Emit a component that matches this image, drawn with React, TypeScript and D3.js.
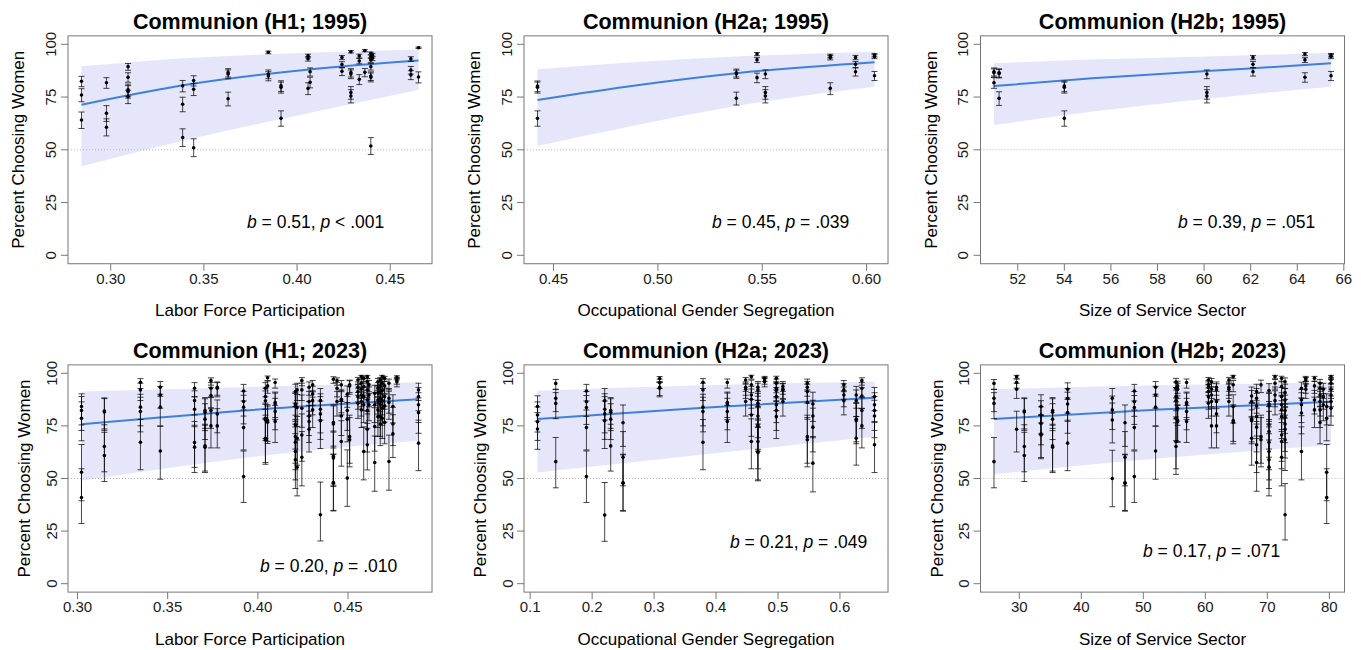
import React from "react";
import * as d3 from "d3";

// Each group: [x value, CI half-width on logit scale, percent choosing women values]
type Group = [number, number, number[]];

// ---------------- DATA ----------------
const titles = [
  "Communion (H1; 1995)",
  "Communion (H2a; 1995)",
  "Communion (H2b; 1995)",
  "Communion (H1; 2023)",
  "Communion (H2a; 2023)",
  "Communion (H2b; 2023)",
];
const xLabels = [
  "Labor Force Participation",
  "Occupational Gender Segregation",
  "Size of Service Sector",
  "Labor Force Participation",
  "Occupational Gender Segregation",
  "Size of Service Sector",
];
const statB = ["0.51", "0.45", "0.39", "0.20", "0.21", "0.17"];
const statP = ["< .001", "= .039", "= .051", "= .010", "= .049", "= .071"];

const yTicks = [0, 25, 50, 75, 100];
const xTicks1 = [0.3, 0.35, 0.4, 0.45];
const xTicks2 = [0.45, 0.5, 0.55, 0.6];
const xTicks3 = [52, 54, 56, 58, 60, 62, 64, 66];
const xTicks4 = [0.3, 0.35, 0.4, 0.45];
const xTicks5 = [0.1, 0.2, 0.3, 0.4, 0.5, 0.6];
const xTicks6 = [30, 40, 50, 60, 70, 80];
const tickFormats = [".2f", ".2f", "d", ".2f", ".1f", "d"];

const groups1: Group[] = [
  [0.2843, 0.17, [82.5, 76.0, 64.1]],
  [0.2977, 0.17, [81.8, 67.3, 60.7]],
  [0.3093, 0.17, [89.4, 84.4, 78.4, 77.6, 75.2]],
  [0.3386, 0.17, [80.3, 71.6, 55.8]],
  [0.3445, 0.17, [82.8, 78.7, 51.0]],
  [0.363, 0.17, [86.6, 85.9, 74.2]],
  [0.3846, 0.17, [96.2, 85.9, 85.0]],
  [0.3914, 0.16, [80.3, 79.6, 64.9]],
  [0.4059, 0.17, [94.5, 93.2, 79.1]],
  [0.407, 0.17, [87.0, 82.0]],
  [0.4241, 0.17, [93.8, 90.4, 87.2]],
  [0.4289, 0.17, [96.5, 86.6, 85.9, 77.1, 75.5]],
  [0.4334, 0.17, [94.5, 92.1, 83.4]],
  [0.4364, 0.17, [97.0, 86.7]],
  [0.4396, 0.16, [95.7, 94.2, 92.6, 89.4, 85.0, 84.4, 51.8]],
  [0.4405, 0.17, [94.9, 93.4]],
  [0.4611, 0.17, [93.1, 87.8, 85.5]],
  [0.4652, 0.2, [98.4, 84.5]],
];
const groups2: Group[] = [
  [0.4423, 0.16, [80.2, 79.6, 64.9]],
  [0.5376, 0.16, [86.5, 85.9, 74.4]],
  [0.5475, 0.17, [95.4, 92.6, 84.2]],
  [0.5515, 0.17, [85.9, 77.1, 75.5]],
  [0.5826, 0.17, [94.5, 93.7, 79.1]],
  [0.5947, 0.17, [93.8, 90.5, 87.0]],
  [0.6038, 0.17, [94.9, 94.2, 85.1]],
];
const groups3: Group[] = [
  [50.98, 0.17, [87.0, 86.5, 81.8]],
  [51.2, 0.17, [86.5, 86.2, 74.4]],
  [54.0, 0.16, [80.2, 79.6, 64.9]],
  [60.12, 0.17, [85.9, 77.1, 75.5]],
  [62.1, 0.17, [93.8, 90.5, 87.0]],
  [64.33, 0.17, [95.4, 92.6, 84.4]],
  [65.45, 0.17, [94.9, 94.2, 85.1]],
];
const groups4: Group[] = [
  [0.3022, 0.55, [84.2, 82.3, 78.6, 53.0, 41.0]],
  [0.3149, 0.5, [82.1, 81.6, 65.2, 60.9]],
  [0.3349, 0.55, [95.7, 92.1, 83.9, 81.8, 67.2]],
  [0.3459, 0.55, [93.4, 89.7, 83.9, 63.1]],
  [0.3649, 0.5, [92.9, 87.0, 82.9, 67.1, 64.9]],
  [0.3707, 0.5, [82.3, 81.5, 78.2, 65.5, 64.9]],
  [0.374, 0.5, [96.5, 92.9, 89.4, 82.3, 75.0]],
  [0.3775, 0.5, [93.4, 92.9, 80.7, 75.0]],
  [0.3921, 0.5, [91.6, 86.6, 83.9, 74.2, 50.9]],
  [0.4042, 0.5, [92.9, 88.9, 86.9, 78.6, 77.8, 69.1, 68.4]],
  [0.4054, 0.5, [97.9, 94.0, 77.5, 76.7]],
  [0.4096, 0.5, [95.6, 86.1, 85.4, 81.8, 77.1]],
  [0.4208, 0.55, [91.3, 85.4, 84.5, 75.5, 69.9, 67.2, 62.8, 58.9]],
  [0.4218, 0.55, [92.1, 83.7, 69.1, 55.4]],
  [0.4244, 0.55, [96.5, 92.1, 83.4, 70.7, 60.1]],
  [0.4284, 0.5, [93.4, 86.6, 79.7, 77.1, 73.4]],
  [0.4304, 0.5, [94.5, 90.2, 87.0, 82.6]],
  [0.4347, 0.65, [87.0, 82.9, 80.7, 77.5, 32.8]],
  [0.4419, 0.55, [97.2, 76.6, 75.9, 60.4, 59.8, 48.1, 47.8]],
  [0.4439, 0.5, [96.5, 92.9, 86.6]],
  [0.4463, 0.5, [94.5, 87.7, 87.0, 79.7, 67.6]],
  [0.4496, 0.55, [90.0, 82.3, 78.2, 50.2]],
  [0.4509, 0.55, [94.5, 94.0, 69.9, 68.4]],
  [0.4555, 0.5, [96.8, 93.4, 91.3, 88.9, 85.8]],
  [0.4574, 0.5, [98.4, 95.3, 92.4, 89.7, 86.6, 82.6]],
  [0.4587, 0.55, [97.6, 93.7, 88.9, 85.0, 62.8]],
  [0.4607, 0.5, [98.4, 96.0, 92.1, 87.3, 82.3, 73.4, 66.0]],
  [0.4616, 0.5, [94.5, 89.7, 85.0]],
  [0.4648, 0.55, [90.5, 85.0, 74.7, 57.6]],
  [0.4666, 0.5, [96.0, 92.9, 90.8, 87.3, 82.6, 79.4]],
  [0.4679, 0.5, [96.8, 93.7, 91.3, 88.1, 85.0, 79.4, 75.9]],
  [0.469, 0.5, [98.4, 95.3, 91.8, 87.0, 83.4, 78.6]],
  [0.4703, 0.5, [97.6, 94.0, 88.9, 84.5, 76.6]],
  [0.4727, 0.55, [95.3, 88.1, 86.1, 58.1]],
  [0.4749, 0.5, [84.2, 75.9, 71.2]],
  [0.4771, 0.5, [98.1, 96.8, 96.0]],
  [0.4891, 0.55, [92.1, 88.9, 85.0, 81.3, 66.8]],
];
const groups5: Group[] = [
  [0.1118, 0.45, [84.2, 80.2, 77.0, 73.5]],
  [0.1413, 0.5, [95.2, 88.1, 85.7, 58.0]],
  [0.1908, 0.5, [91.6, 86.5, 83.7, 74.2, 50.9]],
  [0.2203, 0.65, [87.0, 82.9, 80.7, 77.5, 32.6]],
  [0.23, 0.5, [82.3, 81.5, 78.2, 65.5]],
  [0.2499, 0.55, [76.5, 60.1, 48.0, 47.7]],
  [0.309, 0.5, [97.5, 95.5, 93.3, 92.9]],
  [0.3789, 0.55, [95.7, 92.1, 83.9, 81.8, 67.2]],
  [0.4182, 0.5, [95.6, 86.1, 85.4, 81.8, 77.1]],
  [0.4478, 0.5, [96.8, 93.4, 92.4, 86.6]],
  [0.457, 0.55, [98.4, 94.5, 89.7, 87.7, 80.2, 67.6]],
  [0.4676, 0.55, [93.4, 92.1, 85.8, 84.5, 79.7, 75.4, 74.7, 67.6, 62.8, 62.4]],
  [0.4784, 0.5, [97.6, 96.8, 96.0]],
  [0.4973, 0.55, [97.6, 95.3, 92.9, 91.8, 88.9, 85.0, 82.3, 79.4]],
  [0.5079, 0.5, [93.7, 92.4, 92.1, 86.6]],
  [0.5473, 0.55, [95.3, 93.4, 91.3, 86.1, 69.9, 68.4]],
  [0.5563, 0.55, [85.4, 79.7, 74.4, 57.3]],
  [0.6063, 0.5, [94.5, 92.1, 89.7, 87.0]],
  [0.6263, 0.55, [89.7, 87.0, 78.2, 77.5, 69.1]],
  [0.6354, 0.5, [96.5, 92.9, 89.2, 82.3, 75.0]],
  [0.6558, 0.55, [88.9, 85.0, 82.3, 79.7, 66.0]],
];
const groups6: Group[] = [
  [25.92, 0.5, [95.2, 88.1, 85.7, 58.0]],
  [29.57, 0.5, [98.4, 95.6, 92.4, 73.4]],
  [30.81, 0.5, [82.1, 81.6, 65.2, 60.9]],
  [33.5, 0.5, [84.2, 80.2, 76.2, 71.2, 70.7]],
  [35.37, 0.5, [82.3, 81.5, 78.2, 65.5, 64.9]],
  [37.79, 0.55, [92.4, 88.1, 85.4, 81.3, 66.8]],
  [45.0, 0.55, [88.1, 82.6, 77.8, 50.0]],
  [47.05, 0.55, [76.5, 60.1, 48.0, 47.7]],
  [48.55, 0.5, [91.6, 86.5, 83.7, 74.2, 50.9]],
  [51.98, 0.55, [93.4, 89.7, 83.9, 63.1]],
  [55.27, 0.55, [95.9, 92.9, 88.9, 86.9, 78.6, 67.6, 65.2]],
  [55.53, 0.5, [94.0, 92.4, 83.4, 77.5, 77.1]],
  [56.98, 0.5, [95.6, 86.1, 85.4, 81.8, 77.1]],
  [60.5, 0.5, [96.8, 94.5, 93.4, 91.3, 88.9, 85.8]],
  [61.0, 0.5, [96.0, 92.4, 89.7, 86.6, 75.0]],
  [61.8, 0.5, [93.4, 92.1, 86.6, 80.7, 75.0]],
  [63.8, 0.5, [96.8, 93.4, 92.4, 86.6]],
  [64.5, 0.5, [98.4, 94.5, 84.2, 77.5, 76.6]],
  [67.47, 0.55, [89.2, 86.6, 78.2, 77.5, 69.1]],
  [68.27, 0.55, [91.3, 88.1, 84.5, 79.4, 74.4, 66.0, 57.6]],
  [68.98, 0.55, [94.5, 69.9, 68.4]],
  [70.27, 0.55, [91.8, 85.4, 84.5, 75.5, 72.3, 67.2, 62.8, 58.9, 55.4]],
  [71.24, 0.5, [98.4, 95.3, 89.7, 87.0]],
  [72.3, 0.55, [97.6, 93.7, 88.9, 85.0, 82.6, 79.4, 70.7, 67.6, 60.1]],
  [72.86, 0.62, [96.0, 90.8, 87.3, 82.3, 79.1, 75.9, 73.4, 68.4, 32.8]],
  [75.5, 0.55, [92.9, 87.3, 85.0, 81.1, 62.8]],
  [76.2, 0.5, [97.6, 96.8, 94.0, 92.4]],
  [77.6, 0.5, [97.6, 94.0, 87.3, 82.6]],
  [78.5, 0.5, [95.3, 92.9, 89.7, 86.6, 82.6, 76.6]],
  [79.03, 0.5, [92.4, 88.9, 85.0]],
  [79.57, 0.55, [84.2, 78.6, 53.0, 41.0]],
  [80.27, 0.5, [98.4, 96.8, 95.3, 92.4, 89.7, 86.6, 83.4]],
];

// fitted curve and confidence band
const fitX1 = [0.2843, 0.344, 0.4066, 0.4652];
const fitY1 = [71.4, 81.3, 88.1, 92.3];
const fitLo1 = [42.2, 55.4, 67.5, 78.3];
const fitHi1 = [89.6, 93.6, 96.0, 97.5];
const fitX2 = [0.4423, 0.49, 0.5376, 0.6038];
const fitY2 = [73.6, 80.6, 86.3, 91.5];
const fitLo2 = [51.8, 61.8, 70.8, 79.9];
const fitHi2 = [88.2, 91.6, 94.2, 96.5];
const fitX3 = [50.98, 55.2, 60.12, 65.45];
const fitY3 = [80.2, 83.9, 87.3, 91.0];
const fitLo3 = [61.7, 68.1, 74.2, 79.9];
const fitHi3 = [91.0, 92.8, 94.2, 96.0];
const fitX4 = [0.3022, 0.4197, 0.4891];
const fitY4 = [75.8, 84.0, 87.7];
const fitLo4 = [48.9, 62.5, 67.9];
const fitHi4 = [91.3, 94.1, 95.7];
const fitX5 = [0.1118, 0.3794, 0.6558];
const fitY5 = [78.3, 83.6, 88.4];
const fitLo5 = [52.8, 61.4, 69.9];
const fitHi5 = [91.7, 94.3, 96.0];
const fitX6 = [25.92, 52.69, 80.27];
const fitY6 = [78.3, 82.8, 86.5];
const fitLo6 = [52.1, 59.6, 65.9];
const fitHi6 = [92.4, 94.3, 95.6];

const allGroups = [groups1, groups2, groups3, groups4, groups5, groups6];
const allTicks = [xTicks1, xTicks2, xTicks3, xTicks4, xTicks5, xTicks6];
const allFitX = [fitX1, fitX2, fitX3, fitX4, fitX5, fitX6];
const allFitY = [fitY1, fitY2, fitY3, fitY4, fitY5, fitY6];
const allFitLo = [fitLo1, fitLo2, fitLo3, fitLo4, fitLo5, fitLo6];
const allFitHi = [fitHi1, fitHi2, fitHi3, fitHi4, fitHi5, fitHi6];

// ---------------- LAYOUT ----------------
const W = 1361;
const H = 650;
const COL_LEFT = [68, 524, 980.5];
const BOX_W = 364;
const ROWS = [
  { y0: 255.3, y100: 44.3, titleY: 29, xTickY: 284, xLabY: 315.5, yLabOff: -44, yTickOff: -12.3 },
  { y0: 583.7, y100: 373.3, titleY: 358.3, xTickY: 612.4, xLabY: 645, yLabOff: -38, yTickOff: -11.5 },
];
const ANN_X = [247, 712, 1178, 260, 730, 1143];
const ANN_Y = [228.3, 228.3, 228.3, 571.7, 548.3, 556.7];
const FONT = "'Liberation Sans', Arial, Helvetica, sans-serif";

const logit = (p: number) => Math.log(p / (1 - p));
const invLogit = (z: number) => 1 / (1 + Math.exp(-z));

function Panel({ i }: { i: number }) {
  const row = i < 3 ? 0 : 1;
  const col = i % 3;
  const L = ROWS[row];
  const left = COL_LEFT[col];
  const right = left + BOX_W;
  const groups = allGroups[i];
  const yS = d3.scaleLinear().domain([0, 100]).range([L.y0, L.y100]);
  const ext = d3.extent(groups, (d) => d[0]) as [number, number];
  const pad = (ext[1] - ext[0]) * 0.04;
  const xS = d3.scaleLinear().domain([ext[0] - pad, ext[1] + pad]).range([left, right]);
  const top = yS(104);
  const bottom = yS(-4);
  const fmt = d3.format(tickFormats[i]);

  const bandData = allFitX[i].map((x, k) => [x, allFitLo[i][k], allFitHi[i][k]]);
  const lineData = allFitX[i].map((x, k) => [x, allFitY[i][k]]);
  const area = d3
    .area<number[]>()
    .x((d) => xS(d[0]))
    .y0((d) => yS(d[1]))
    .y1((d) => yS(d[2]))
    .curve(d3.curveMonotoneX);
  const line = d3
    .line<number[]>()
    .x((d) => xS(d[0]))
    .y((d) => yS(d[1]))
    .curve(d3.curveMonotoneX);

  const cap = 3;
  const bars: React.ReactNode[] = [];
  const pts: React.ReactNode[] = [];
  groups.forEach((g, gi) => {
    const [x, h, ys] = g;
    const px = xS(x);
    ys.forEach((v, vi) => {
      const z = logit(v / 100);
      const lo = invLogit(z - h) * 100;
      const hi = invLogit(z + h) * 100;
      const yl = yS(lo);
      const yh = yS(hi);
      bars.push(
        <g key={`b${gi}-${vi}`}>
          <line x1={px} x2={px} y1={yl} y2={yh} />
          <line x1={px - cap} x2={px + cap} y1={yl} y2={yl} />
          <line x1={px - cap} x2={px + cap} y1={yh} y2={yh} />
        </g>
      );
      pts.push(<circle key={`p${gi}-${vi}`} cx={px} cy={yS(v)} r={1.8} />);
    });
  });

  const cx = (left + right) / 2;
  const cy = (top + bottom) / 2;
  const tickCol = "#777";

  return (
    <g fontFamily={FONT}>
      <path d={area(bandData) || ""} fill="#E6E6FA" stroke="none" />
      <line x1={left} x2={right} y1={yS(50)} y2={yS(50)} stroke="#b0b0b0" strokeWidth={0.9} strokeDasharray="1 2" />
      <path d={line(lineData) || ""} fill="none" stroke="#3F80DC" strokeWidth={2} />
      <g stroke="#000" strokeOpacity={0.72} strokeWidth={1}>{bars}</g>
      <g fill="#000">{pts}</g>
      <rect x={left} y={top} width={BOX_W} height={bottom - top} fill="none" stroke={tickCol} strokeWidth={1} />
      {yTicks.map((t) => (
        <g key={`yt${t}`}>
          <line x1={left - 7} x2={left} y1={yS(t)} y2={yS(t)} stroke={tickCol} />
          <text
            transform={`translate(${left + L.yTickOff},${yS(t)}) rotate(-90)`}
            textAnchor="middle"
            fontSize={15}
            fill="#1a1a1a"
          >
            {t}
          </text>
        </g>
      ))}
      {allTicks[i].map((t) => (
        <g key={`xt${t}`}>
          <line x1={xS(t)} x2={xS(t)} y1={bottom} y2={bottom + 7} stroke={tickCol} />
          <text x={xS(t)} y={L.xTickY} textAnchor="middle" fontSize={15} fill="#1a1a1a">
            {fmt(t)}
          </text>
        </g>
      ))}
      <text x={cx} y={L.titleY} textAnchor="middle" fontSize={21.5} fontWeight="bold" fill="#000">
        {titles[i]}
      </text>
      <text x={cx} y={L.xLabY} textAnchor="middle" fontSize={17} fill="#000">
        {xLabels[i]}
      </text>
      <text
        transform={`translate(${left + L.yLabOff},${cy}) rotate(-90)`}
        textAnchor="middle"
        fontSize={17}
        fill="#000"
      >
        Percent Choosing Women
      </text>
      <text x={ANN_X[i]} y={ANN_Y[i]} fontSize={17.5} fill="#000">
        <tspan fontStyle="italic">b</tspan>
        {` = ${statB[i]}, `}
        <tspan fontStyle="italic">p</tspan>
        {` ${statP[i]}`}
      </text>
    </g>
  );
}

export default function App() {
  return (
    <svg
      width={W}
      height={H}
      viewBox={`0 0 ${W} ${H}`}
      style={{ position: "absolute", left: 0, top: 0, background: "#fff" }}
    >
      <rect x={0} y={0} width={W} height={H} fill="#fff" />
      {[0, 1, 2, 3, 4, 5].map((i) => (
        <Panel key={i} i={i} />
      ))}
    </svg>
  );
}
